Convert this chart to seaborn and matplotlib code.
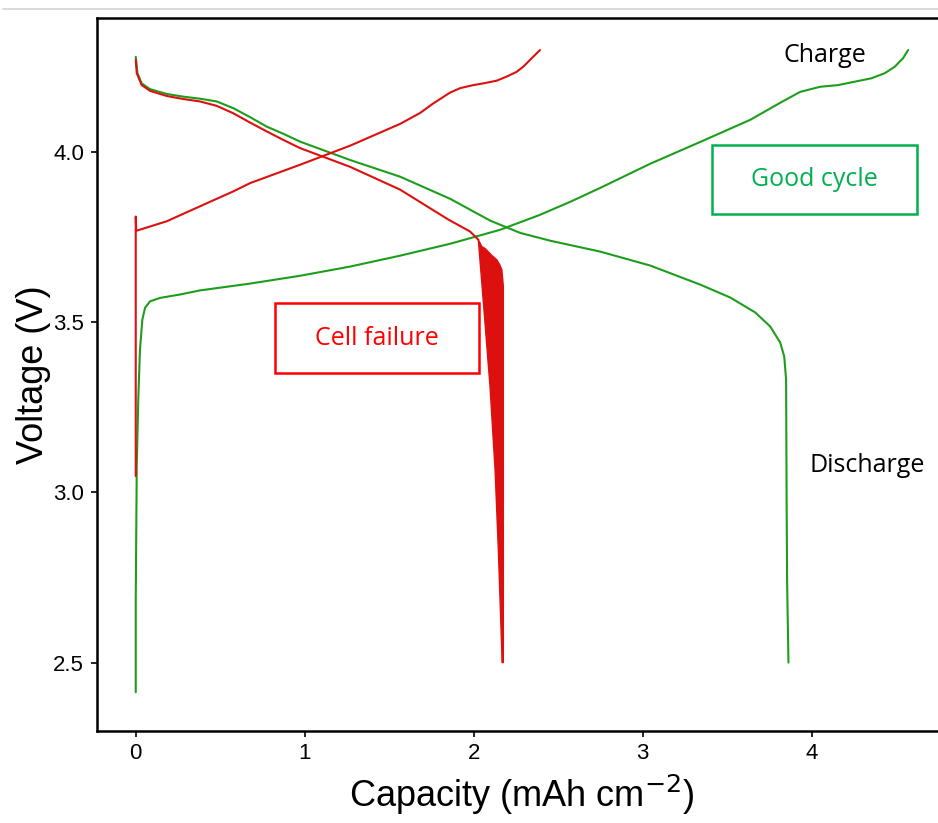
import numpy as np
import pandas as pd
import matplotlib
matplotlib.use("Agg")
import matplotlib.pyplot as plt
from matplotlib.patches import Rectangle
from matplotlib.lines import Line2D
import seaborn as sns

# ---- voltage profiles (capacity in mAh cm^-2, voltage in V) ----
good_dis_cap = [0.0, 0.01, 0.035, 0.085, 0.183, 0.282, 0.38, 0.479, 0.578, 0.676, 0.775,
                0.873, 0.972, 1.268, 1.564, 1.860, 2.097, 2.274, 2.452, 2.748, 3.044,
                3.340, 3.518, 3.666, 3.754, 3.813, 3.837, 3.848, 3.851, 3.854, 3.862]
good_dis_v = [4.279, 4.231, 4.201, 4.184, 4.170, 4.162, 4.156, 4.148, 4.128, 4.102, 4.074,
              4.053, 4.030, 3.976, 3.927, 3.862, 3.798, 3.762, 3.739, 3.707, 3.666,
              3.610, 3.572, 3.528, 3.487, 3.440, 3.399, 3.331, 2.979, 2.736, 2.5]

good_chg_cap = [0.0, 0.0, 0.006, 0.015, 0.025, 0.039, 0.055, 0.085, 0.144, 0.262, 0.38,
                0.676, 0.972, 1.268, 1.564, 1.860, 2.156, 2.392, 2.57, 2.748, 3.044,
                3.34, 3.636, 3.813, 3.931, 4.049, 4.156, 4.254, 4.353, 4.432, 4.491,
                4.54, 4.57]
good_chg_v = [2.413, 2.686, 3.077, 3.273, 3.419, 3.507, 3.542, 3.561, 3.571, 3.581, 3.593,
              3.613, 3.636, 3.663, 3.695, 3.730, 3.771, 3.815, 3.853, 3.894, 3.965,
              4.029, 4.094, 4.144, 4.176, 4.191, 4.196, 4.206, 4.216, 4.231, 4.25,
              4.275, 4.299]

fail_dis_cap = [0.0, 0.006, 0.035, 0.085, 0.183, 0.282, 0.38, 0.479, 0.578, 0.676, 0.775,
                0.873, 0.972, 1.268, 1.564, 1.85, 1.978, 2.027]
fail_dis_v = [4.27, 4.231, 4.196, 4.179, 4.164, 4.155, 4.148, 4.135, 4.113, 4.086, 4.06,
              4.035, 4.011, 3.956, 3.889, 3.801, 3.766, 3.742]

fail_chg_cap = [0.0, 0.0, 0.003, 0.183, 0.38, 0.578, 0.676, 0.824, 0.972, 1.268, 1.564,
                1.682, 1.76, 1.86, 1.919, 1.998, 2.057, 2.136, 2.195, 2.254, 2.293,
                2.343, 2.392]
fail_chg_v = [3.048, 3.81, 3.768, 3.796, 3.84, 3.884, 3.908, 3.935, 3.962, 4.018, 4.082,
              4.114, 4.142, 4.174, 4.187, 4.196, 4.201, 4.209, 4.221, 4.235, 4.25,
              4.275, 4.299]

# envelope of the noisy end of the failed discharge
noise_top_cap = [2.027, 2.047, 2.067, 2.085, 2.108, 2.136, 2.153, 2.166, 2.175, 2.175]
noise_top_v = [3.742, 3.722, 3.716, 3.707, 3.695, 3.683, 3.669, 3.654, 3.605, 2.5]
noise_low_cap = [2.027, 2.057, 2.096, 2.126, 2.146, 2.166, 2.167]
noise_low_v = [3.742, 3.557, 3.312, 3.067, 2.824, 2.531, 2.5]

x_ticks = [0, 1, 2, 3, 4]
y_ticks = [2.5, 3.0, 3.5, 4.0]

RED = "#dd1010"
GREEN = "#1c9e1c"

traces = []
for name, cap, v, cell in [("good_dis", good_dis_cap, good_dis_v, "good"),
                           ("good_chg", good_chg_cap, good_chg_v, "good"),
                           ("fail_dis", fail_dis_cap, fail_dis_v, "fail"),
                           ("fail_chg", fail_chg_cap, fail_chg_v, "fail")]:
    traces.append(pd.DataFrame({"cap": cap, "volt": v, "cell": cell, "trace": name,
                                "step": np.arange(len(cap))}))
df = pd.concat(traces, ignore_index=True)

sns.set_style("ticks")
plt.rcParams["font.family"] = ["Liberation Sans", "DejaVu Sans"]
plt.rcParams["text.color"] = "black"
plt.rcParams["axes.labelcolor"] = "black"

fig = plt.figure(figsize=(9.38, 8.23), dpi=100)
ax = fig.add_axes([96.7 / 938, 92.3 / 823, (947 - 96.7) / 938, (730.7 - 18) / 823])

sns.lineplot(data=df, x="cap", y="volt", hue="cell", units="trace", estimator=None,
             sort=False, palette={"good": GREEN, "fail": RED}, linewidth=1.5,
             legend=False, ax=ax)
for line in ax.lines:
    line.set_solid_joinstyle("round")

# noisy collapse of the failed cell
poly_x = noise_top_cap + noise_low_cap[::-1]
poly_y = noise_top_v + noise_low_v[::-1]
ax.fill(poly_x, poly_y, color=RED, linewidth=1.0, edgecolor=RED, zorder=3)

ax.set_xlim(-0.231, 4.80)
ax.set_ylim(2.30, 4.393)
ax.set_xticks(x_ticks)
ax.set_yticks(y_ticks)
ax.set_yticklabels([f"{t:.1f}" for t in y_ticks])
ax.set_xticklabels([str(t) for t in x_ticks])

for s in ["left", "bottom", "top"]:
    ax.spines[s].set_linewidth(1.8)
    ax.spines[s].set_color("black")
ax.spines["right"].set_visible(False)
ax.tick_params(axis="both", direction="out", length=4, width=1.2, colors="black",
               labelcolor="black", labelsize=16, pad=5)

ax.set_xlabel("Capacity (mAh cm$^{-2}$)", fontsize=26, labelpad=6)
ax.set_ylabel("Voltage (V)", fontsize=26, labelpad=2)

ann_font = ["Open Sans", "DejaVu Sans"]
ax.text(4.079, 4.284, "Charge", fontsize=18, ha="center", va="center", family=ann_font)
ax.text(4.325, 3.079, "Discharge", fontsize=18, ha="center", va="center", family=ann_font)

BOX_GREEN = "#00b050"
BOX_RED = "#ff0000"
ax.add_patch(Rectangle((3.408, 3.818), 4.621 - 3.408, 4.021 - 3.818, fill=False,
                       edgecolor=BOX_GREEN, linewidth=1.8, zorder=4))
ax.text(4.015, 3.918, "Good cycle", fontsize=18, color=BOX_GREEN, ha="center",
        va="center", family=ann_font)
ax.add_patch(Rectangle((0.824, 3.349), 2.031 - 0.824, 3.557 - 3.349, fill=False,
                       edgecolor=BOX_RED, linewidth=1.8, zorder=4))
ax.text(1.428, 3.452, "Cell failure", fontsize=18, color=BOX_RED, ha="center",
        va="center", family=ann_font)

# thin rule across the top of the canvas
fig.add_artist(Line2D([3 / 938, 1.0], [1 - 9 / 823, 1 - 9 / 823], color="#d4d4d4",
                      linewidth=1.2))

fig.savefig("out.png", dpi=100)
